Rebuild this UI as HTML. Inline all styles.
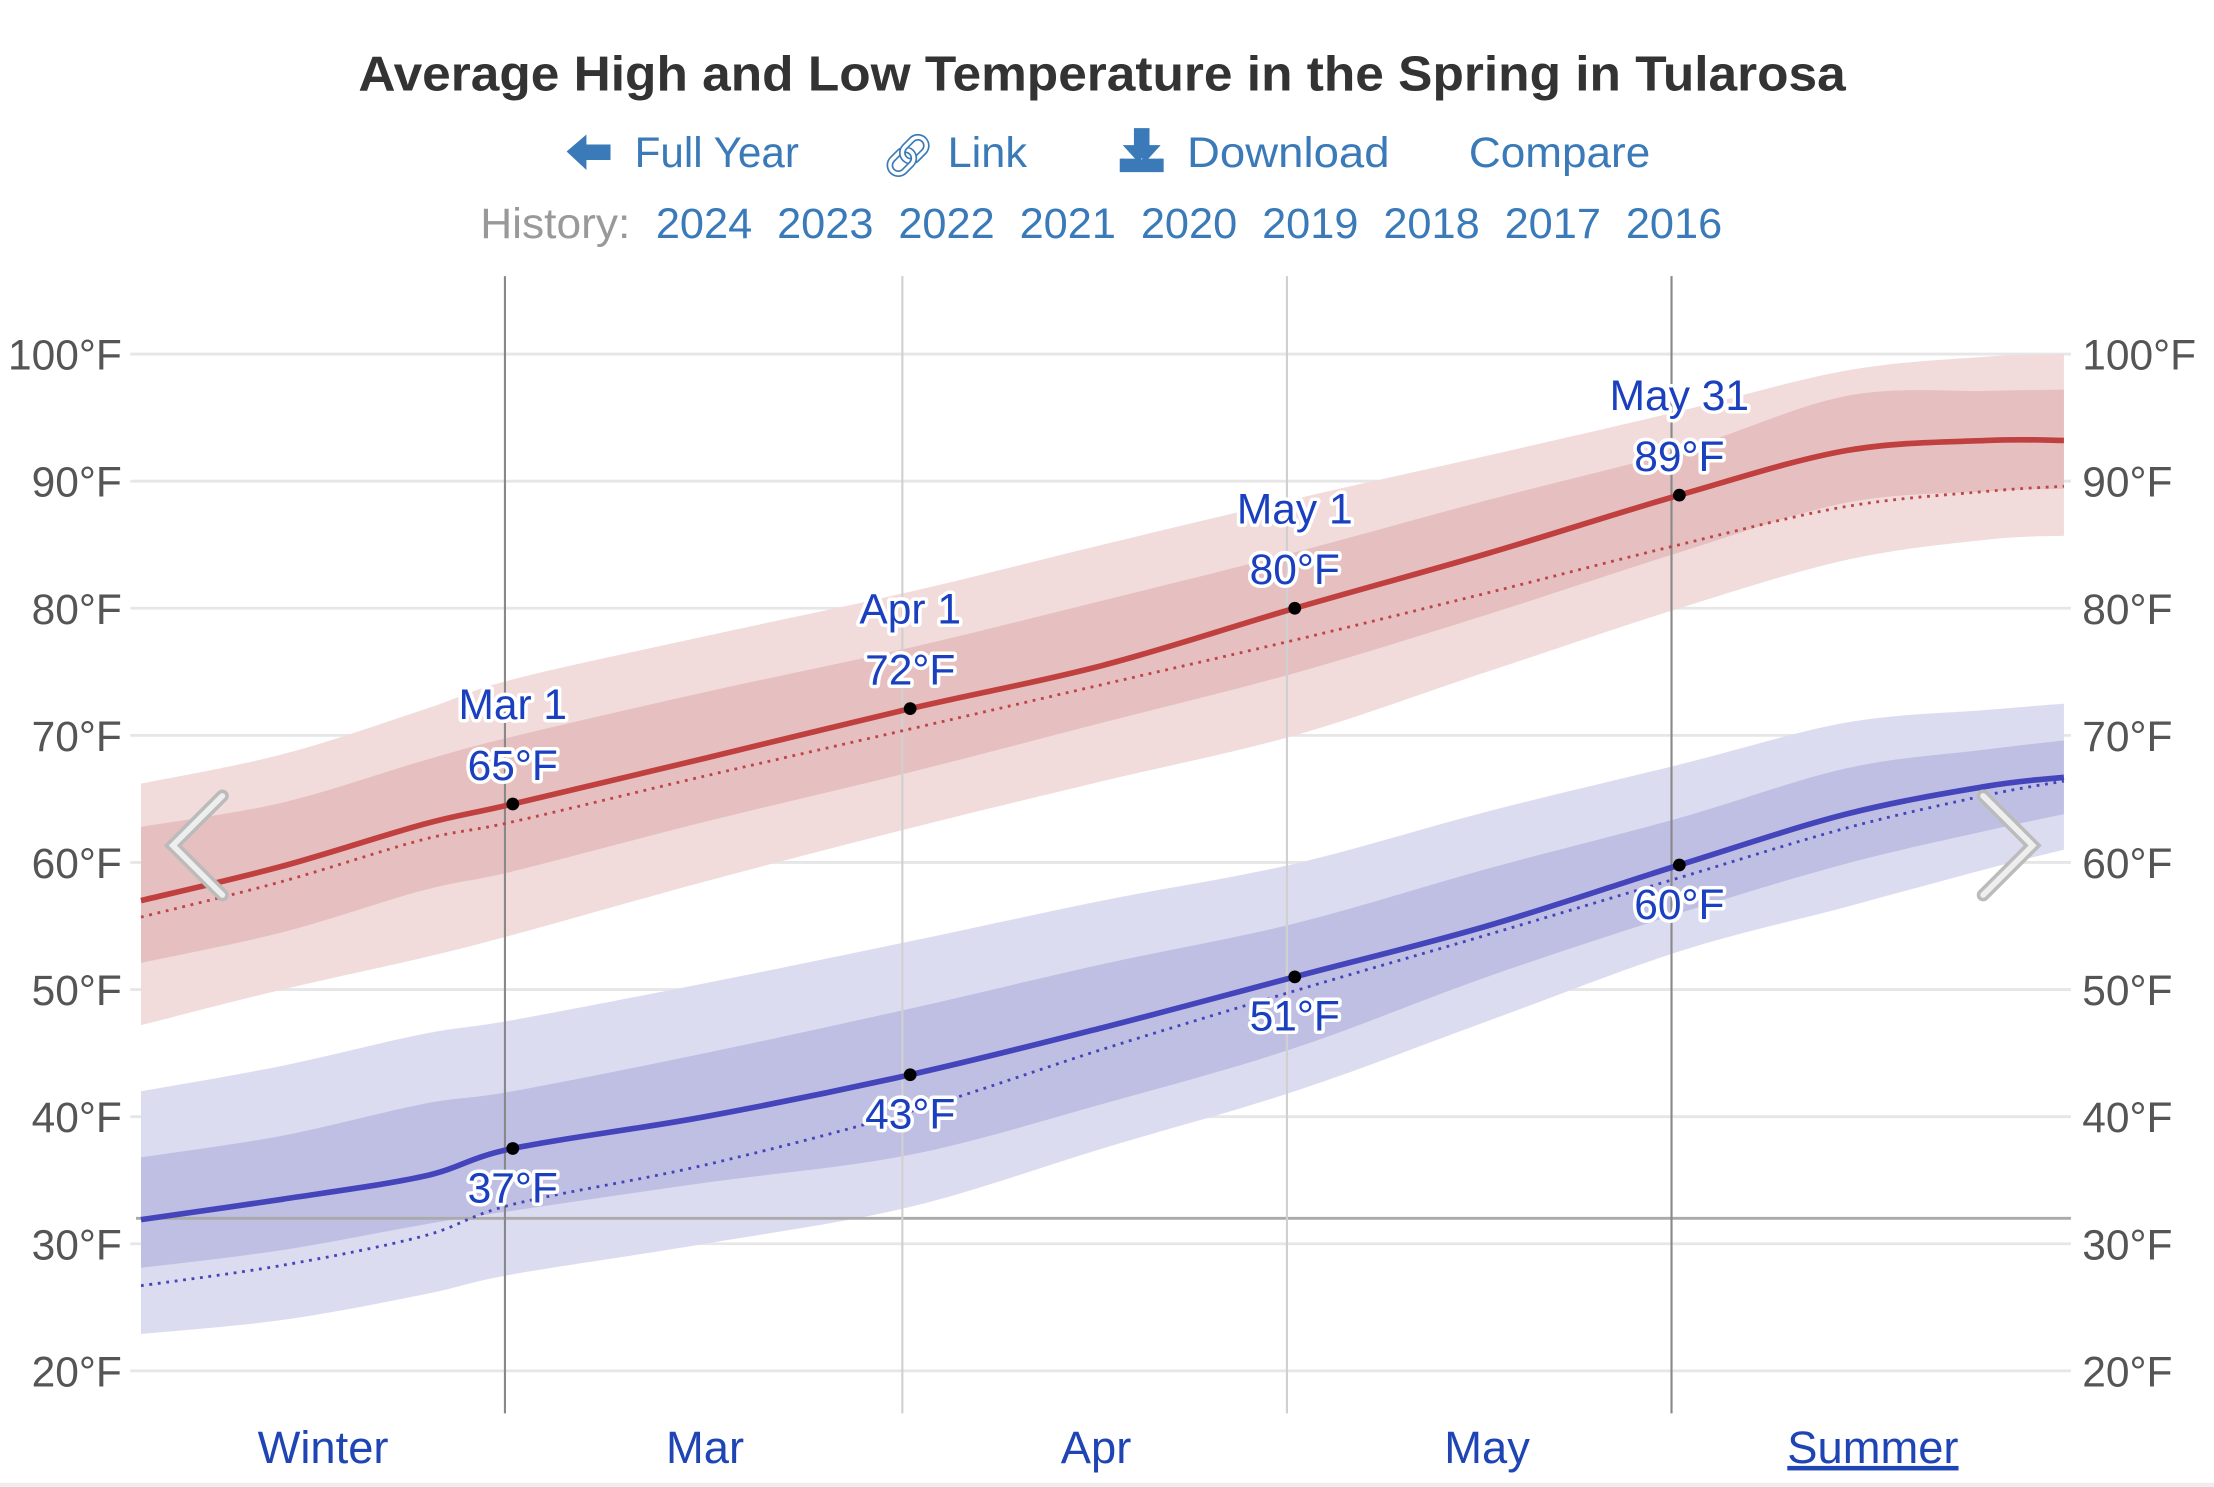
<!DOCTYPE html>
<html><head><meta charset="utf-8"><style>
html,body{margin:0;padding:0;background:#fff;}
svg{display:block;font-family:"Liberation Sans",sans-serif;}
.tick{fill:#555;font-size:30px;}
.lbl{fill:#1a3fbf;font-size:30px;text-anchor:middle;stroke:#fff;stroke-width:5px;paint-order:stroke;stroke-linejoin:round;}
.lnk{fill:#3a7ab8;font-size:30px;}
.mon{fill:#1f45b5;font-size:32px;text-anchor:middle;}
</style></head><body>
<svg id="chart" width="2214" height="1487" viewBox="0 0 1563 1050" preserveAspectRatio="none" xmlns="http://www.w3.org/2000/svg">
<text x="778" y="64" text-anchor="middle" font-size="35" fill="#333" font-weight="bold" textLength="1050" lengthAdjust="spacingAndGlyphs">Average High and Low Temperature in the Spring in Tularosa</text>
<g><path d="M400,107 L414,95 L414,102 L431,102 L431,113 L414,113 L414,120 Z" fill="#3a7ab8"/><text class="lnk" x="448" y="118" textLength="116" lengthAdjust="spacingAndGlyphs">Full Year</text></g>
<g><text x="622" y="120" font-size="30" fill="#3a7ab8">🔗︎</text><text class="lnk" x="669" y="118" textLength="56" lengthAdjust="spacingAndGlyphs">Link</text></g>
<g><path d="M802,92 h8 v12 h6 l-10,11 l-10,-11 h6 Z M792,112 v8 h28 v-8" fill="#3a7ab8" stroke="#3a7ab8" stroke-width="3"/><text class="lnk" x="838" y="118" textLength="143" lengthAdjust="spacingAndGlyphs">Download</text></g>
<text class="lnk" x="1037" y="118" textLength="128" lengthAdjust="spacingAndGlyphs">Compare</text>
<text x="339" y="168" font-size="30" fill="#999" textLength="106" lengthAdjust="spacingAndGlyphs">History:</text>
<g id="years"></g>
<g id="grid"></g>
<g id="bands"></g>
<g id="vlines"></g>
<g id="lines"></g>
<g id="labels"></g>
<g id="months"></g>
<path d="M157,562 L122,597 L157,632" fill="none" stroke="#bbb" stroke-width="9" stroke-linecap="round"/>
<path d="M157,562 L122,597 L157,632" fill="none" stroke="#eee" stroke-width="4" stroke-linecap="round"/>
<path d="M1400,562 L1435,597 L1400,632" fill="none" stroke="#bbb" stroke-width="9" stroke-linecap="round"/>
<path d="M1400,562 L1435,597 L1400,632" fill="none" stroke="#eee" stroke-width="4" stroke-linecap="round"/>
<rect x="0" y="1047" width="1563" height="3" fill="#eee"/>
</svg>
<script>
const years=["2024","2023","2022","2021","2020","2019","2018","2017","2016"];
const yTicks=[20,30,40,50,60,70,80,90,100];
const days=[-29,-18,-7,0,15,31,46,61,76,91,104,115,121];
const highAvg=[57.0,59.7,63.0,64.6,68.2,72.1,75.5,80.0,84.3,88.9,92.4,93.2,93.2];
const highNormal=[55.7,58.5,61.8,63.2,66.8,70.5,74,77.5,81.2,85,88,89.2,89.6];
const highOuterTop=[66.2,68.5,72,74.4,77.8,81.3,85,88.6,92,95.5,98.7,99.8,100];
const highOuterBot=[47.2,50,52.5,54.3,58.5,62.7,66.4,70,75,80,83.8,85.4,85.7];
const highInnerTop=[62.8,64.7,68,69.9,73.4,76.9,80.6,84.4,88.5,92.4,96.7,97.1,97.2];
const highInnerBot=[52.1,54.5,57.8,59.3,63.2,67.1,71,74.9,79.5,84.4,88.3,89.2,89.4];
const lowAvg=[31.9,33.5,35.3,37.5,40,43.3,47,51,55,59.8,63.8,66,66.7];
const lowNormal=[26.7,28.3,30.6,33.1,36.2,40.4,45.3,49.9,54.3,58.8,62.7,65.3,66.4];
const lowOuterTop=[42,44,46.5,47.6,50.5,53.8,57,59.9,64,67.7,71,72,72.5];
const lowOuterBot=[22.9,24,26,27.6,30,32.9,37.5,42,47.5,53,56.5,59.5,61];
const lowInnerTop=[36.8,38.5,41,42,45,48.5,52,55.2,59.5,63.5,67.4,68.9,69.6];
const lowInnerBot=[28.1,29.5,31.5,32.6,34.8,37,41,45.4,51,56,59.9,62.5,63.8];
const markDays=[0,31,61,91];
const markDates=["Mar 1","Apr 1","May 1","May 31"];
const markHigh=[65,72,80,89];
const markLow=[37,43,51,60];
const monthNames=["Winter","Mar","Apr","May","Summer"];
const monthCenters=[-14.8,15,45.5,76,106.1];
const dividerDays=[-0.5,30.5,60.5,90.5];

const NS="http://www.w3.org/2000/svg";
const X=d=>362+d*9.05;
const Y=v=>250+(100-v)*8.975;
function mk(tag,attrs,parent,txt){const e=document.createElementNS(NS,tag);for(const k in attrs)e.setAttribute(k,attrs[k]);if(txt!==undefined)e.textContent=txt;document.getElementById(parent).appendChild(e);return e;}
function pts(vals){return days.map((d,i)=>[X(d),Y(vals[i])]);}
function curve(p,move){let s=(move?"M":"L")+p[0][0]+","+p[0][1];for(let i=0;i<p.length-1;i++){const p0=p[Math.max(i-1,0)],p1=p[i],p2=p[i+1],p3=p[Math.min(i+2,p.length-1)];s+=" C"+(p1[0]+(p2[0]-p0[0])/6)+","+(p1[1]+(p2[1]-p0[1])/6)+" "+(p2[0]-(p3[0]-p1[0])/6)+","+(p2[1]-(p3[1]-p1[1])/6)+" "+p2[0]+","+p2[1];}return s;}

years.forEach((y,i)=>{const e=mk("text",{x:463+i*85.6,y:168,"font-size":30,fill:"#3a7ab8",textLength:68,lengthAdjust:"spacingAndGlyphs"},"years",y);

});

yTicks.forEach(v=>{const g=mk("line",{x1:92,x2:1462,y1:Y(v),y2:Y(v),stroke:"#e6e6e6","stroke-width":2},"grid");


const l=mk("text",{class:"tick",x:86,y:Y(v)+11,"text-anchor":"end"},"grid",v+"°F");


const r=mk("text",{class:"tick",x:1470,y:Y(v)+11},"grid",v+"°F");

});

function band(top,bot,color,name){const pt=pts(top),pb=pts(bot).reverse();const e=mk("path",{d:curve(pt,true)+" L"+pb[0][0]+","+pb[0][1]+curve(pb,false).slice(("L"+pb[0][0]+","+pb[0][1]).length)+" Z",fill:color},"bands");

}
band(highOuterTop,highOuterBot,"#f1dbdb","high-outer-band");
band(highInnerTop,highInnerBot,"#e6c0c0","high-inner-band");
band(lowOuterTop,lowOuterBot,"#dcdcf1","low-outer-band");
band(lowInnerTop,lowInnerBot,"#bfbfe4","low-inner-band");

const fz=mk("line",{x1:96,x2:1462,y1:Y(32),y2:Y(32),stroke:"#aaa","stroke-width":2},"vlines");


dividerDays.forEach((d,i)=>{const e=mk("line",{x1:X(d)-1,x2:X(d)-1,y1:195,y2:998,stroke:(i==0||i==3)?"#888":"#d0d0d0","stroke-width":1.5},"vlines");

});

function line(vals,color,w,dash,name){const e=mk("path",{d:curve(pts(vals),true),fill:"none",stroke:color,"stroke-width":w},"lines");
if(dash)e.setAttribute("stroke-dasharray",dash);

}
line(highNormal,"#c04444",2,"2,4","high-normal-line");
line(lowNormal,"#4444bb",2,"2,4","low-normal-line");
line(highAvg,"#c04040",4,null,"high-average-line");
line(lowAvg,"#4444bb",4,null,"low-average-line");

markDays.forEach((d,i)=>{
const yh=Y(highAvg[days.indexOf(d)]),yl=Y(lowAvg[days.indexOf(d)]);
const c1=mk("circle",{cx:X(d),cy:yh,r:4.5,fill:"#000"},"labels");


const c2=mk("circle",{cx:X(d),cy:yl,r:4.5,fill:"#000"},"labels");


const t1=mk("text",{class:"lbl",x:X(d),y:yh-60},"labels",markDates[i]);


const t2=mk("text",{class:"lbl",x:X(d),y:yh-17},"labels",markHigh[i]+"°F");


const t3=mk("text",{class:"lbl",x:X(d),y:yl+38},"labels",markLow[i]+"°F");

});

monthNames.forEach((m,i)=>{const e=mk("text",{class:"mon",x:X(monthCenters[i]),y:1033},"months",m);
if(i==0||i==4){e.setAttribute("fill","#1a3fbf");}
if(i==4)e.setAttribute("text-decoration","underline");

});
</script>
</body></html>
